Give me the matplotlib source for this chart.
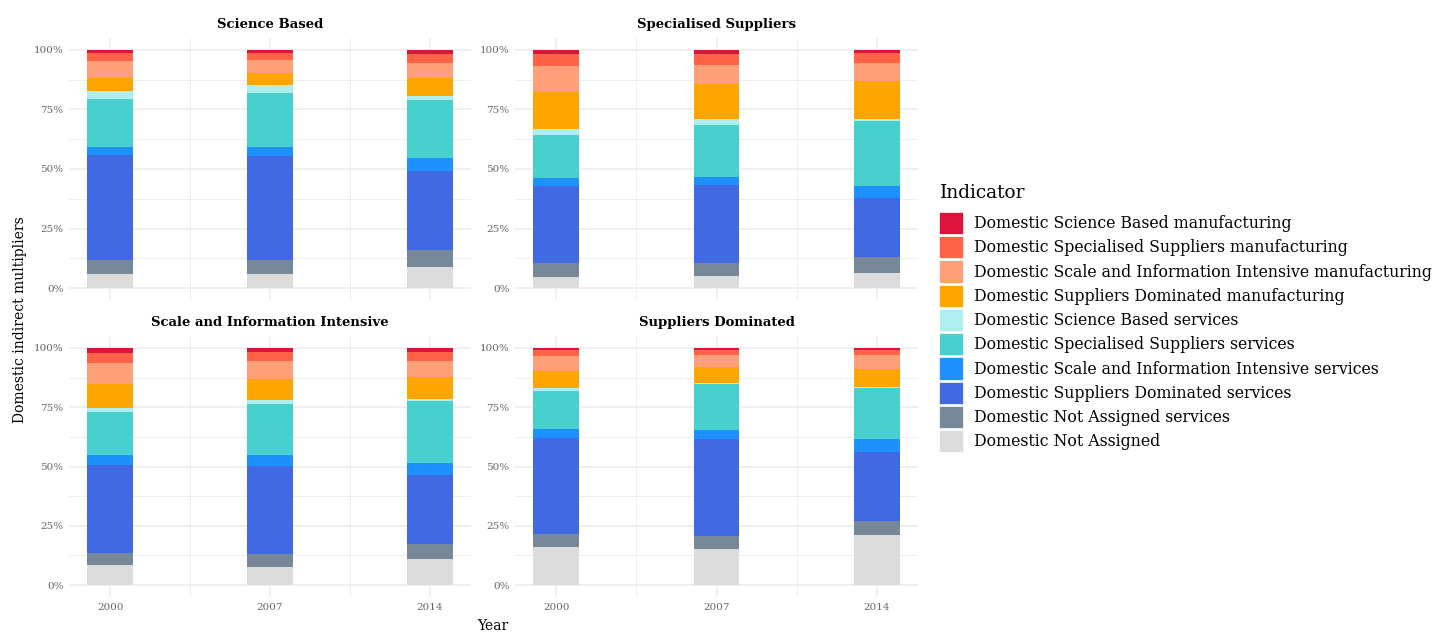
import matplotlib
matplotlib.use("Agg")
import matplotlib.pyplot as plt
from matplotlib.patches import Patch
import numpy as np

plt.rcParams["font.family"] = ["DejaVu Serif"]

years = [2000, 2007, 2014]
panels = ["Science Based", "Specialised Suppliers",
          "Scale and Information Intensive", "Suppliers Dominated"]

# stacking order, bottom to top
indicators = [
    "Domestic Not Assigned",
    "Domestic Not Assigned services",
    "Domestic Suppliers Dominated services",
    "Domestic Scale and Information Intensive services",
    "Domestic Specialised Suppliers services",
    "Domestic Science Based services",
    "Domestic Suppliers Dominated manufacturing",
    "Domestic Scale and Information Intensive manufacturing",
    "Domestic Specialised Suppliers manufacturing",
    "Domestic Science Based manufacturing",
]
colors = ["#DCDCDC", "#778899", "#4169E1", "#1E90FF", "#48D1CC",
          "#AFEEEE", "#FFA500", "#FFA07A", "#FF6347", "#DC143C"]

# shares (%) per indicator, one row per year, same order as indicators
science_based = [
    [5.9, 6.1, 43.9, 3.5, 20.0, 3.5, 5.3, 7.0, 3.3, 1.5],
    [5.9, 6.1, 43.5, 3.9, 22.7, 3.2, 5.0, 5.4, 3.0, 1.3],
    [8.8, 7.2, 33.2, 5.4, 24.4, 1.8, 7.4, 6.5, 3.6, 1.7],
]
specialised_suppliers = [
    [4.5, 5.9, 32.3, 3.5, 17.9, 2.6, 15.8, 10.9, 4.9, 1.7],
    [4.9, 5.5, 32.7, 3.5, 21.9, 2.5, 14.7, 8.1, 4.5, 1.7],
    [6.3, 6.6, 24.9, 4.9, 27.6, 0.7, 16.0, 7.7, 4.0, 1.3],
]
scale_info_intensive = [
    [8.3, 5.3, 37.0, 4.2, 18.3, 1.4, 10.1, 8.9, 4.3, 2.2],
    [7.7, 5.3, 37.2, 4.6, 21.5, 1.7, 8.8, 7.7, 3.7, 1.8],
    [11.2, 6.2, 29.0, 5.2, 26.0, 0.8, 9.3, 6.8, 3.7, 1.8],
]
suppliers_dominated = [
    [16.1, 5.4, 40.6, 3.5, 16.4, 0.9, 7.4, 6.1, 2.6, 1.0],
    [15.3, 5.3, 41.1, 3.5, 19.4, 0.7, 6.7, 4.9, 2.1, 1.0],
    [21.0, 6.2, 28.9, 5.6, 21.2, 0.4, 7.9, 5.7, 2.1, 1.0],
]
panel_data = [science_based, specialised_suppliers,
              scale_info_intensive, suppliers_dominated]

W, H = 1434, 634
fig = plt.figure(figsize=(W / 100, H / 100), dpi=100)

# panel boxes in pixels: left, top, right, bottom
boxes = [(69, 38, 471, 300), (515, 38, 918, 300),
         (69, 336, 471, 597), (515, 336, 918, 597)]

grid_col = "#EBEBEB"
tick_col = "#666666"

for k, (name, data) in enumerate(zip(panels, panel_data)):
    l, t, r, b = boxes[k]
    ax = fig.add_axes([l / W, 1 - b / H, (r - l) / W, (b - t) / H])
    vals = np.array(data, dtype=float)
    vals = vals / vals.sum(axis=1, keepdims=True) * 100
    bottom = np.zeros(len(years))
    for j, ind in enumerate(indicators):
        ax.bar(years, vals[:, j], width=2.0, bottom=bottom,
               color=colors[j], linewidth=0)
        bottom += vals[:, j]
    ax.set_xlim(1998.2, 2015.8)
    ax.set_ylim(-5, 105)
    ax.set_yticks([0, 25, 50, 75, 100])
    ax.set_yticklabels(["0%", "25%", "50%", "75%", "100%"])
    ax.set_yticks([12.5, 37.5, 62.5, 87.5], minor=True)
    ax.set_xticks(years)
    ax.set_xticks([2003.5, 2010.5], minor=True)
    ax.grid(True, which="major", color=grid_col, linewidth=1.1)
    ax.grid(True, which="minor", color=grid_col, linewidth=0.6)
    ax.set_axisbelow(True)
    for s in ax.spines.values():
        s.set_visible(False)
    ax.tick_params(which="both", length=0, labelsize=7.5, colors=tick_col, pad=4)
    if k < 2:
        ax.set_xticklabels([])
    ax.set_title(name, fontsize=9.5, fontweight="bold", pad=7)

fig.text(20 / W, 1 - 320 / H, "Domestic indirect multipliers",
         rotation=90, ha="center", va="center", fontsize=10)
fig.text(493 / W, 1 - 626 / H, "Year", ha="center", va="center", fontsize=10)

# legend (title drawn separately to control the gap)
fig.text(940 / W, 1 - 193 / H, "Indicator", ha="left", va="center", fontsize=13.3)
handles = [Patch(facecolor=c, edgecolor="white", linewidth=0.5) for c in colors]
leg = fig.legend(handles[::-1], indicators[::-1], loc="upper left",
                 bbox_to_anchor=(939 / W, 1 - 212 / H), frameon=False,
                 fontsize=11.3, borderpad=0, handlelength=1.55,
                 handleheight=1.8, labelspacing=0.13, handletextpad=0.7,
                 borderaxespad=0)

fig.savefig("out.png", dpi=100, facecolor="white")
